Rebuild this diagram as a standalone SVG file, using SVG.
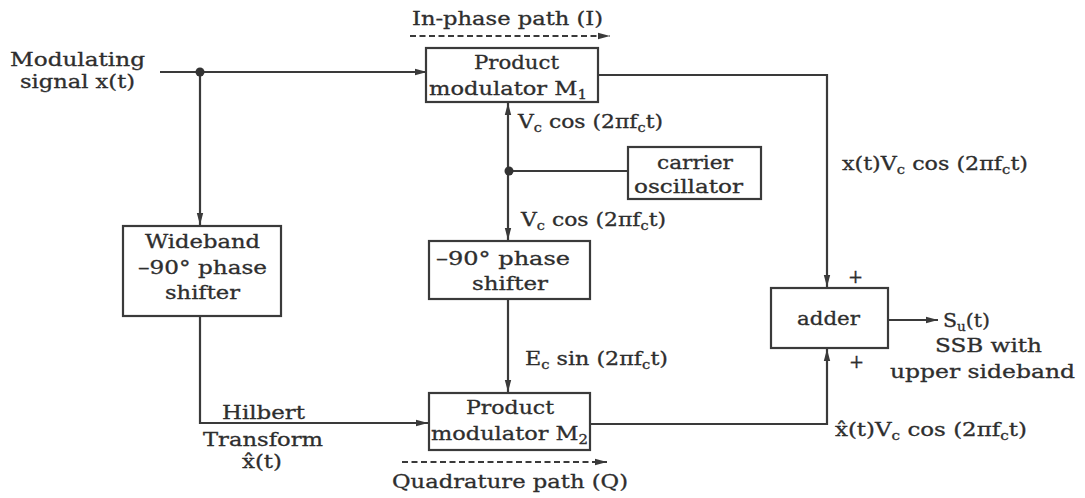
<svg xmlns="http://www.w3.org/2000/svg" width="1085" height="498" viewBox="0 0 1085 498">
<defs>
<marker id="arr" viewBox="0 0 12 8" refX="12" refY="4" markerWidth="12" markerHeight="8" markerUnits="userSpaceOnUse" orient="auto">
<path d="M0,0.8 L12,4 L0,7.2 Z" fill="#3a3a3a"/>
</marker>
<style>
.t{font-family:"DejaVu Serif","Liberation Serif",serif;font-size:18px;fill:#2e2e2e;stroke:#2e2e2e;stroke-width:0.3}
.box{fill:none;stroke:#3a3a3a;stroke-width:2.2}
.ln{fill:none;stroke:#3a3a3a;stroke-width:2.2}
.ds{fill:none;stroke:#3a3a3a;stroke-width:1.8;stroke-dasharray:6,3.5}
.s{font-size:12px}
</style>
</defs>
<rect width="1085" height="498" fill="#ffffff"/>

<g id="connectors">
<path class="ln" d="M160,72 H427" marker-end="url(#arr)"/>
<path class="ln" d="M200,72 V225" marker-end="url(#arr)"/>
<path class="ln" d="M200,316 V423 H428" marker-end="url(#arr)"/>
<path class="ln" d="M508,171 V103" marker-end="url(#arr)"/>
<path class="ln" d="M508,171 V240" marker-end="url(#arr)"/>
<path class="ln" d="M508,171 H628"/>
<path class="ln" d="M508,299 V392" marker-end="url(#arr)"/>
<path class="ln" d="M598,75 H827 V287" marker-end="url(#arr)"/>
<path class="ln" d="M590,424 H827 V349" marker-end="url(#arr)"/>
<path class="ln" d="M888,320 H938" marker-end="url(#arr)"/>
<path class="ds" d="M410,36 H610" marker-end="url(#arr)"/>
<path class="ds" d="M402,462 H607" marker-end="url(#arr)"/>
<circle cx="200" cy="72" r="4.5" fill="#333"/>
<circle cx="509" cy="171" r="4.5" fill="#333"/>
</g>

<g id="input">
<text class="t" x="10" y="66" textLength="135" lengthAdjust="spacingAndGlyphs">Modulating</text>
<text class="t" x="20" y="88" textLength="115" lengthAdjust="spacingAndGlyphs">signal x(t)</text>
</g>

<g id="m1">
<rect class="box" x="426" y="48" width="172" height="54"/>
<text class="t" x="474" y="69" textLength="85" lengthAdjust="spacingAndGlyphs">Product</text>
<text class="t" x="429" y="95" textLength="158" lengthAdjust="spacingAndGlyphs">modulator M<tspan class="s" dy="4">1</tspan></text>
</g>

<g id="carrier">
<rect class="box" x="628" y="147" width="133" height="52"/>
<text class="t" x="657" y="169" textLength="76" lengthAdjust="spacingAndGlyphs">carrier</text>
<text class="t" x="634" y="193" textLength="109" lengthAdjust="spacingAndGlyphs">oscillator</text>
</g>

<g id="wideband">
<rect class="box" x="123" y="226" width="158" height="90"/>
<text class="t" x="145" y="248" textLength="115" lengthAdjust="spacingAndGlyphs">Wideband</text>
<text class="t" x="138" y="274" textLength="129" lengthAdjust="spacingAndGlyphs">–90° phase</text>
<text class="t" x="165" y="299" textLength="75" lengthAdjust="spacingAndGlyphs">shifter</text>
</g>

<g id="shifter">
<rect class="box" x="429" y="241" width="161" height="58"/>
<text class="t" x="436" y="265" textLength="134" lengthAdjust="spacingAndGlyphs">–90° phase</text>
<text class="t" x="472" y="290" textLength="76" lengthAdjust="spacingAndGlyphs">shifter</text>
</g>

<g id="m2">
<rect class="box" x="429" y="393" width="161" height="57"/>
<text class="t" x="466" y="414" textLength="88" lengthAdjust="spacingAndGlyphs">Product</text>
<text class="t" x="431" y="440" textLength="157" lengthAdjust="spacingAndGlyphs">modulator M<tspan class="s" dy="4">2</tspan></text>
</g>

<g id="adder">
<rect class="box" x="771" y="288" width="117" height="60"/>
<text class="t" x="797" y="325" textLength="63" lengthAdjust="spacingAndGlyphs">adder</text>
</g>

<g id="labels">
<text class="t" x="412" y="25" textLength="191" lengthAdjust="spacingAndGlyphs">In-phase path (I)</text>
<text class="t" x="392" y="488" textLength="236" lengthAdjust="spacingAndGlyphs">Quadrature path (Q)</text>
<text class="t" x="518" y="128" textLength="145" lengthAdjust="spacingAndGlyphs">V<tspan class="s" dy="4">c</tspan><tspan dy="-4"> cos (2πf</tspan><tspan class="s" dy="4">c</tspan><tspan dy="-4">t)</tspan></text>
<text class="t" x="521" y="226" textLength="145" lengthAdjust="spacingAndGlyphs">V<tspan class="s" dy="4">c</tspan><tspan dy="-4"> cos (2πf</tspan><tspan class="s" dy="4">c</tspan><tspan dy="-4">t)</tspan></text>
<text class="t" x="525" y="365" textLength="143" lengthAdjust="spacingAndGlyphs">E<tspan class="s" dy="4">c</tspan><tspan dy="-4"> sin (2πf</tspan><tspan class="s" dy="4">c</tspan><tspan dy="-4">t)</tspan></text>
<text class="t" x="842" y="170" textLength="186" lengthAdjust="spacingAndGlyphs">x(t)V<tspan class="s" dy="4">c</tspan><tspan dy="-4"> cos (2πf</tspan><tspan class="s" dy="4">c</tspan><tspan dy="-4">t)</tspan></text>
<text class="t" x="835" y="436" textLength="192" lengthAdjust="spacingAndGlyphs">x̂(t)V<tspan class="s" dy="4">c</tspan><tspan dy="-4"> cos (2πf</tspan><tspan class="s" dy="4">c</tspan><tspan dy="-4">t)</tspan></text>
<text class="t" x="848" y="283">+</text>
<text class="t" x="849" y="368">+</text>
<text class="t" x="943" y="327" textLength="47" lengthAdjust="spacingAndGlyphs">S<tspan class="s" dy="4">u</tspan><tspan dy="-4">(t)</tspan></text>
<text class="t" x="935" y="352" textLength="107" lengthAdjust="spacingAndGlyphs">SSB with</text>
<text class="t" x="890" y="378" textLength="185" lengthAdjust="spacingAndGlyphs">upper sideband</text>
<text class="t" x="222" y="419" textLength="83" lengthAdjust="spacingAndGlyphs">Hilbert</text>
<text class="t" x="203" y="446" textLength="120" lengthAdjust="spacingAndGlyphs">Transform</text>
<text class="t" x="242" y="468" textLength="40" lengthAdjust="spacingAndGlyphs">x̂(t)</text>
</g>
</svg>
